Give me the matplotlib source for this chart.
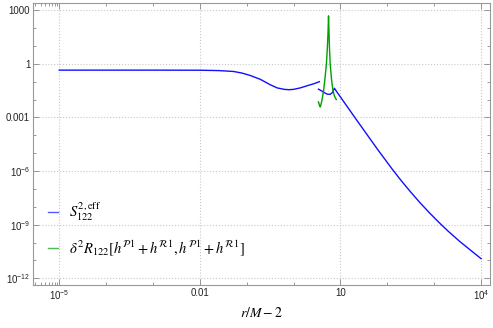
import numpy as np
import matplotlib
matplotlib.use("Agg")
import matplotlib.pyplot as plt
from matplotlib.ticker import FixedLocator, FixedFormatter

plt.rcParams['mathtext.fontset'] = 'custom'
plt.rcParams['mathtext.rm'] = 'Liberation Sans'
plt.rcParams['mathtext.it'] = 'Liberation Sans:italic'
plt.rcParams['font.family'] = ['Liberation Sans', 'DejaVu Sans']

# Data (log10 x, log10 y)
blue1_logx = [-5, -4, -3, -2, -1.6, -1.28, -1.1, -0.93, -0.71, -0.5, -0.35, -0.2, -0.1, 0.0, 0.14, 0.3, 0.45, 0.55]
blue1_logy = [-0.355, -0.355, -0.355, -0.36, -0.38, -0.43, -0.52, -0.65, -0.87, -1.17, -1.35, -1.43, -1.45, -1.43, -1.35, -1.22, -1.1, -1.0]

blue2_logx = [0.53, 0.60, 0.66, 0.72, 0.78, 0.83, 0.87, 0.89, 1.3, 1.8, 2.1, 2.3, 2.5, 2.7, 2.9, 3.1, 3.3, 3.55, 3.8, 4.0]
blue2_logy = [-1.42, -1.52, -1.62, -1.70, -1.71, -1.60, -1.37, -1.45, -2.98, -4.82, -5.88, -6.55, -7.18, -7.78, -8.34, -8.87, -9.37, -9.95, -10.48, -10.9]

green_logx = [0.53, 0.555, 0.57, 0.60, 0.64, 0.67, 0.70, 0.72, 0.735, 0.745, 0.755, 0.765, 0.78, 0.81, 0.84, 0.87, 0.91]
green_logy = [-2.13, -2.35, -2.41, -2.1, -1.5, -0.8, 0.0, 0.9, 1.8, 2.68, 1.8, 0.9, 0.0, -0.9, -1.5, -1.8, -2.0]

xticks = [1e-5, 1e-2, 1e1, 1e4]
xticklabels = [r'$10^{-5}$', '0.01', '10', r'$10^{4}$']
yticks = [1e3, 1, 1e-3, 1e-6, 1e-9, 1e-12]
yticklabels = ['1000', '1', '0.001', r'$10^{-6}$', r'$10^{-9}$', r'$10^{-12}$']

label_blue = r'$S^{2,\mathrm{eff}}_{122}$'
label_green = r'$\delta^2 R_{122}[h^{\mathcal{P}1}+h^{\mathcal{R}1},h^{\mathcal{P}1}+h^{\mathcal{R}1}]$'

fig = plt.figure(figsize=(4.93, 3.28), dpi=100)
ax = fig.add_axes([33/493, 1-285.3/328, (490-33)/493, (285.3-3)/328])

blue = '#1010ff'
green = '#00a000'
l1, = ax.plot(10**np.array(blue1_logx), 10**np.array(blue1_logy), color=blue, lw=1.0, label=label_blue)
ax.plot(10**np.array(blue2_logx), 10**np.array(blue2_logy), color=blue, lw=1.0)
l2, = ax.plot(10**np.array(green_logx), 10**np.array(green_logy), color=green, lw=1.0, label=label_green)

ax.set_xscale('log')
ax.set_yscale('log')
ax.set_xlim(10**-5.56, 10**4.19)
ax.set_ylim(10**-12.39, 10**3.4)

ax.xaxis.set_major_locator(FixedLocator(xticks))
ax.xaxis.set_major_formatter(FixedFormatter(xticklabels))
ax.yaxis.set_major_locator(FixedLocator(yticks))
ax.yaxis.set_major_formatter(FixedFormatter(yticklabels))

xminor = [10.0**k for k in range(-5, 5)] + [m*1e-6 for m in range(2, 10)]
xminor = [v for v in xminor if v not in xticks]
yminor = [10.0**k for k in range(-12, 4) if 10.0**k not in yticks]
ax.xaxis.set_minor_locator(FixedLocator(xminor))
ax.yaxis.set_minor_locator(FixedLocator(yminor))
ax.xaxis.set_minor_formatter(FixedFormatter([''] * len(xminor)))
ax.yaxis.set_minor_formatter(FixedFormatter([''] * len(yminor)))

ax.tick_params(which='both', direction='in', top=True, right=True, color='#888888',
               labelsize=7, labelcolor='#222222', width=0.6, pad=2)
ax.tick_params(which='major', length=4)
ax.tick_params(which='minor', length=2.2)
for s in ax.spines.values():
    s.set_color('#999999')
    s.set_linewidth(0.8)

ax.grid(True, which='major', linestyle=':', color='#c8c8c8', lw=0.8)

xl = ax.set_xlabel(r'$r/M-2$', fontsize=10, labelpad=3)
xl.set_math_fontfamily('stix')

leg = ax.legend(handles=[l1, l2], loc='lower left', bbox_to_anchor=(0.0, 0.045),
                frameon=False, fontsize=10.5, handlelength=0.7, handletextpad=0.8,
                labelspacing=1.05, borderaxespad=0.6)
for t in leg.get_texts():
    t.set_math_fontfamily('stix')
for h in leg.get_lines():
    h.set_alpha(0.7)

fig.savefig('out.png', dpi=100)
